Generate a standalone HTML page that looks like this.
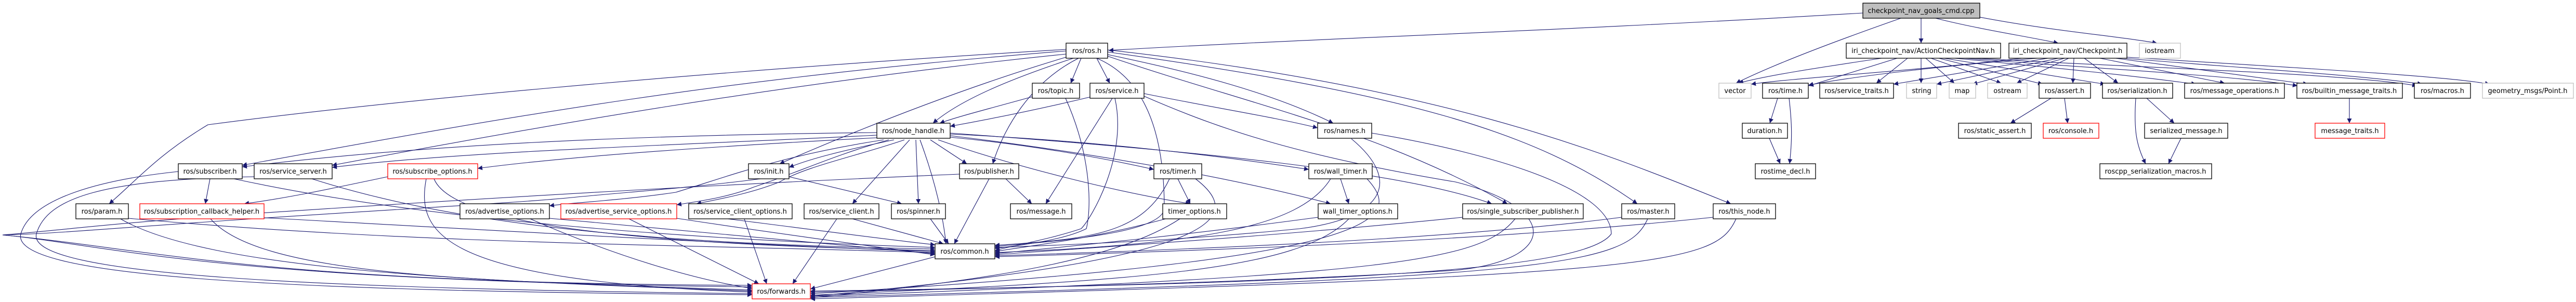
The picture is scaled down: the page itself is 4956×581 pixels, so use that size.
<!DOCTYPE html>
<html><head><meta charset="utf-8"><style>
html,body{margin:0;padding:0;background:#fff;}
svg{display:block;}
text{font-family:"DejaVu Sans","Liberation Sans",sans-serif;font-size:13px;fill:#000;text-anchor:middle;}
.e{fill:none;stroke:#191970;stroke-width:1.1;marker-end:url(#a);}
.n{fill:#fff;stroke:#000;stroke-width:1.3;}
.g{fill:#fff;stroke:#bfbfbf;stroke-width:1.3;}
.r{fill:#fff;stroke:#ff0000;stroke-width:1.3;}
</style></head><body>
<svg width="4956" height="581" viewBox="0 0 4956 581" xmlns="http://www.w3.org/2000/svg">
<defs><marker id="a" viewBox="0 0 10 10" refX="10" refY="5" markerWidth="9" markerHeight="9" orient="auto" markerUnits="userSpaceOnUse"><path d="M0,0 L10,5 L0,10 z" fill="#191970"/></marker></defs>
<g>
<path class="e" d="M3584,25 C3000,60 2500,75 2133,97"/>
<path class="e" d="M3660,34 C3500,90 3400,130 3340,160"/>
<path class="e" d="M3696,34 L3696,83"/>
<path class="e" d="M3720,34 C3800,55 3900,70 3960,83"/>
<path class="e" d="M3809,33 C3950,60 4080,70 4150,83"/>
<path class="e" d="M2080,112 L2060,160"/>
<path class="e" d="M2110,112 L2135,160"/>
<path class="e" d="M2065,112 C1950,150 1850,190 1795,237"/>
<path class="e" d="M2051,110 C1850,170 1650,250 1500,315"/>
<path class="e" d="M2075,112 C1980,160 1930,250 1910,315"/>
<path class="e" d="M2051,98 C1400,150 1000,220 466,318"/>
<path class="e" d="M2051,104 C1500,160 1000,250 639,318"/>
<path class="e" d="M2051,95 C1300,140 700,200 400,240 C300,300 260,350 210,392"/>
<path class="e" d="M2131,105 C2300,140 2450,180 2565,237"/>
<path class="e" d="M2131,108 C2400,200 2650,250 2900,392"/>
<path class="e" d="M2131,100 C2700,180 2950,250 3150,392"/>
<path class="e" d="M2131,96 C2800,170 3100,300 3330,392"/>
<path class="e" d="M2110,112 C2200,150 2240,250 2240,400 C2240,440 2100,460 1914,474"/>
<path class="e" d="M1990,185 C1900,210 1840,225 1808,237"/>
<path class="e" d="M2050,189 C2100,300 2100,400 2090,440 C2050,460 1980,470 1914,478"/>
<path class="e" d="M2100,186 C2000,210 1900,230 1828,243"/>
<path class="e" d="M2140,189 L2012,392"/>
<path class="e" d="M2145,189 C2170,300 2100,420 2080,440 C2020,460 1960,470 1914,482"/>
<path class="e" d="M2201,180 C2350,210 2450,225 2535,246"/>
<path class="e" d="M2201,185 C2350,250 2500,300 2800,350 C3000,400 3000,500 2800,520 C2400,545 1900,555 1559,562"/>
<path class="e" d="M1687,255 C1200,260 800,280 466,321"/>
<path class="e" d="M1687,260 C1300,280 900,290 639,322"/>
<path class="e" d="M1687,265 C1400,280 1100,300 919,324"/>
<path class="e" d="M1720,269 C1620,290 1560,305 1518,322"/>
<path class="e" d="M1790,269 L1860,315"/>
<path class="e" d="M1828,264 C2000,280 2150,310 2220,326"/>
<path class="e" d="M1828,258 C2100,270 2350,300 2518,326"/>
<path class="e" d="M1740,269 C1650,300 1550,320 1500,350 C1450,370 1400,380 1340,392"/>
<path class="e" d="M1750,269 L1640,392"/>
<path class="e" d="M1762,269 L1767,392"/>
<path class="e" d="M1805,269 C1950,320 2150,370 2290,392"/>
<path class="e" d="M1828,261 C2150,300 2400,350 2560,392"/>
<path class="e" d="M1700,269 C1500,300 1400,340 1300,370 C1200,385 1100,390 1057,396"/>
<path class="e" d="M1710,269 C1600,300 1540,330 1450,360 C1400,380 1340,388 1302,394"/>
<path class="e" d="M1770,269 C1800,350 1815,420 1820,469"/>
<path class="e" d="M1828,256 C2300,290 2700,330 2870,392"/>
<path class="e" d="M404,344 L395,392"/>
<path class="e" d="M746,340 C650,360 560,380 470,392"/>
<path class="e" d="M450,344 C800,420 1300,460 1799,476"/>
<path class="e" d="M343,330 C200,345 60,380 40,450 C20,530 500,560 1447,567"/>
<path class="e" d="M600,344 C900,440 1300,470 1799,479"/>
<path class="e" d="M489,340 C200,345 90,380 70,450 C50,530 600,555 1447,565"/>
<path class="e" d="M820,344 C800,450 850,540 1447,562"/>
<path class="e" d="M835,344 C870,430 1200,470 1799,482"/>
<path class="e" d="M247,420 C800,470 1300,470 1799,486"/>
<path class="e" d="M230,420 C400,520 900,540 1447,560"/>
<path class="e" d="M508,419 C900,440 1400,470 1799,484"/>
<path class="e" d="M405,421 C500,530 900,540 1447,558"/>
<path class="e" d="M1057,420 C1400,450 1600,470 1799,488"/>
<path class="e" d="M1020,421 C1200,500 1350,540 1447,555"/>
<path class="e" d="M1302,420 C1500,450 1650,470 1799,490"/>
<path class="e" d="M1210,421 L1460,546"/>
<path class="e" d="M1400,421 C1550,440 1700,460 1799,471"/>
<path class="e" d="M1432,421 L1475,546"/>
<path class="e" d="M1640,421 L1815,469"/>
<path class="e" d="M1610,421 L1525,546"/>
<path class="e" d="M1493,340 C1350,360 1200,370 1100,380 C1000,390 800,400 500,420 C200,440 100,450 5,452 C200,470 400,540 1447,552"/>
<path class="e" d="M1518,340 L1735,392"/>
<path class="e" d="M1790,421 L1825,469"/>
<path class="e" d="M1903,344 L1836,469"/>
<path class="e" d="M1935,344 L1985,392"/>
<path class="e" d="M1846,335 C1500,350 1100,370 500,410 C200,430 100,445 5,452 C300,480 500,545 1447,549"/>
<path class="e" d="M2266,344 L2290,392"/>
<path class="e" d="M2250,344 C2200,450 2100,460 1914,472"/>
<path class="e" d="M2300,344 C2400,420 2350,500 1559,570"/>
<path class="e" d="M2250,419 C2100,460 2000,470 1914,484"/>
<path class="e" d="M2270,421 C2150,500 1900,540 1559,573"/>
<path class="e" d="M2579,344 L2595,392"/>
<path class="e" d="M2560,344 C2500,440 2300,470 1914,486"/>
<path class="e" d="M2630,344 C2700,420 2680,500 1559,565"/>
<path class="e" d="M2536,418 C2300,450 2100,470 1914,488"/>
<path class="e" d="M2595,421 C2500,520 2200,540 1559,568"/>
<path class="e" d="M2814,418 C2500,450 2200,470 1914,490"/>
<path class="e" d="M2915,421 C2850,500 2700,530 1559,570"/>
<path class="e" d="M3120,418 C2800,460 2300,480 1914,492"/>
<path class="e" d="M3170,421 C3130,510 3000,535 1559,572"/>
<path class="e" d="M3296,418 C2900,460 2400,480 1914,494"/>
<path class="e" d="M3340,421 C3300,510 3200,530 1559,575"/>
<path class="e" d="M2600,267 C2700,350 2660,420 2500,440 C2300,460 2100,470 1914,476"/>
<path class="e" d="M2639,256 C2900,300 3100,370 3100,450 C3050,520 2600,545 1559,560"/>
<path class="e" d="M1799,494 L1559,556"/>
<path class="e" d="M3420,189 L3405,237"/>
<path class="e" d="M3442,189 C3448,240 3448,270 3443,315"/>
<path class="e" d="M3404,266 L3425,315"/>
<path class="e" d="M3620,112 C3500,130 3400,145 3345,160"/>
<path class="e" d="M3650,112 L3480,165"/>
<path class="e" d="M3670,112 L3610,160"/>
<path class="e" d="M3696,112 L3696,160"/>
<path class="e" d="M3705,112 L3760,160"/>
<path class="e" d="M3715,112 L3850,160"/>
<path class="e" d="M3730,112 L3930,162"/>
<path class="e" d="M3740,112 L4050,162"/>
<path class="e" d="M3760,112 C3950,130 4100,145 4225,162"/>
<path class="e" d="M3780,112 C4000,130 4300,145 4420,165"/>
<path class="e" d="M3800,112 C4100,130 4500,140 4650,165"/>
<path class="e" d="M3890,112 C3700,135 3450,150 3369,162"/>
<path class="e" d="M3920,112 C3700,130 3550,150 3479,164"/>
<path class="e" d="M3940,112 L3643,162"/>
<path class="e" d="M3960,112 L3726,162"/>
<path class="e" d="M3972,112 L3795,162"/>
<path class="e" d="M3980,112 L3880,160"/>
<path class="e" d="M3990,112 L3988,160"/>
<path class="e" d="M4010,112 L4075,160"/>
<path class="e" d="M4040,112 L4280,160"/>
<path class="e" d="M4070,112 L4440,162"/>
<path class="e" d="M4085,112 C4300,130 4550,145 4660,162"/>
<path class="e" d="M4092,110 C4400,130 4700,145 4790,162"/>
<path class="e" d="M3946,189 L3868,237"/>
<path class="e" d="M3972,189 L3978,237"/>
<path class="e" d="M4130,189 L4183,237"/>
<path class="e" d="M4109,189 C4105,250 4110,280 4128,315"/>
<path class="e" d="M4196,266 L4172,315"/>
<path class="e" d="M4520,189 L4520,237"/>
</g>
<g>
<rect x="3584" y="6" width="225" height="29" fill="#bfbfbf" stroke="#000" stroke-width="1.3"/><text x="3696" y="25">checkpoint_nav_goals_cmd.cpp</text>
<rect class="n" x="2051" y="83" width="80" height="29"/><text x="2091" y="102">ros/ros.h</text>
<rect class="n" x="3552" y="83" width="297" height="29"/><text x="3700" y="102">iri_checkpoint_nav/ActionCheckpointNav.h</text>
<rect class="n" x="3865" y="83" width="227" height="29"/><text x="3978" y="102">iri_checkpoint_nav/Checkpoint.h</text>
<rect class="g" x="4116" y="83" width="79" height="29"/><text x="4155" y="102">iostream</text>
<rect class="n" x="1986" y="160" width="91" height="29"/><text x="2031" y="179">ros/topic.h</text>
<rect class="n" x="2097" y="160" width="104" height="29"/><text x="2149" y="179">ros/service.h</text>
<rect class="g" x="3307" y="160" width="62" height="29"/><text x="3338" y="179">vector</text>
<rect class="n" x="3391" y="160" width="88" height="29"/><text x="3435" y="179">ros/time.h</text>
<rect class="n" x="3501" y="160" width="142" height="29"/><text x="3572" y="179">ros/service_traits.h</text>
<rect class="g" x="3668" y="160" width="58" height="29"/><text x="3697" y="179">string</text>
<rect class="g" x="3750" y="160" width="51" height="29"/><text x="3775" y="179">map</text>
<rect class="g" x="3824" y="160" width="76" height="29"/><text x="3862" y="179">ostream</text>
<rect class="n" x="3923" y="160" width="99" height="29"/><text x="3972" y="179">ros/assert.h</text>
<rect class="n" x="4045" y="160" width="135" height="29"/><text x="4112" y="179">ros/serialization.h</text>
<rect class="n" x="4203" y="160" width="192" height="29"/><text x="4299" y="179">ros/message_operations.h</text>
<rect class="n" x="4419" y="160" width="203" height="29"/><text x="4520" y="179">ros/builtin_message_traits.h</text>
<rect class="n" x="4645" y="160" width="108" height="29"/><text x="4699" y="179">ros/macros.h</text>
<rect class="g" x="4776" y="160" width="175" height="29"/><text x="4863" y="179">geometry_msgs/Point.h</text>
<rect class="n" x="1687" y="237" width="141" height="29"/><text x="1757" y="256">ros/node_handle.h</text>
<rect class="n" x="2535" y="237" width="104" height="29"/><text x="2587" y="256">ros/names.h</text>
<rect class="n" x="3352" y="237" width="87" height="29"/><text x="3395" y="256">duration.h</text>
<rect class="n" x="3768" y="237" width="140" height="29"/><text x="3838" y="256">ros/static_assert.h</text>
<rect class="r" x="3931" y="237" width="107" height="29"/><text x="3984" y="256">ros/console.h</text>
<rect class="n" x="4126" y="237" width="160" height="29"/><text x="4206" y="256">serialized_message.h</text>
<rect class="r" x="4454" y="237" width="134" height="29"/><text x="4521" y="256">message_traits.h</text>
<rect class="n" x="343" y="315" width="123" height="29"/><text x="404" y="334">ros/subscriber.h</text>
<rect class="n" x="489" y="315" width="150" height="29"/><text x="564" y="334">ros/service_server.h</text>
<rect class="r" x="746" y="315" width="173" height="29"/><text x="832" y="334">ros/subscribe_options.h</text>
<rect class="n" x="1440" y="315" width="78" height="29"/><text x="1479" y="334">ros/init.h</text>
<rect class="n" x="1846" y="315" width="114" height="29"/><text x="1903" y="334">ros/publisher.h</text>
<rect class="n" x="2220" y="315" width="92" height="29"/><text x="2266" y="334">ros/timer.h</text>
<rect class="n" x="2518" y="315" width="122" height="29"/><text x="2579" y="334">ros/wall_timer.h</text>
<rect class="n" x="3377" y="315" width="116" height="29"/><text x="3435" y="334">rostime_decl.h</text>
<rect class="n" x="4040" y="315" width="215" height="29"/><text x="4147" y="334">roscpp_serialization_macros.h</text>
<rect class="n" x="146" y="392" width="101" height="29"/><text x="196" y="411">ros/param.h</text>
<rect class="r" x="269" y="392" width="239" height="29"/><text x="388" y="411">ros/subscription_callback_helper.h</text>
<rect class="n" x="885" y="392" width="172" height="29"/><text x="971" y="411">ros/advertise_options.h</text>
<rect class="r" x="1079" y="392" width="223" height="29"/><text x="1190" y="411">ros/advertise_service_options.h</text>
<rect class="n" x="1325" y="392" width="199" height="29"/><text x="1424" y="411">ros/service_client_options.h</text>
<rect class="n" x="1547" y="392" width="144" height="29"/><text x="1619" y="411">ros/service_client.h</text>
<rect class="n" x="1715" y="392" width="104" height="29"/><text x="1767" y="411">ros/spinner.h</text>
<rect class="n" x="1944" y="392" width="118" height="29"/><text x="2003" y="411">ros/message.h</text>
<rect class="n" x="2237" y="392" width="123" height="29"/><text x="2298" y="411">timer_options.h</text>
<rect class="n" x="2536" y="392" width="153" height="29"/><text x="2612" y="411">wall_timer_options.h</text>
<rect class="n" x="2814" y="392" width="232" height="29"/><text x="2930" y="411">ros/single_subscriber_publisher.h</text>
<rect class="n" x="3120" y="392" width="102" height="29"/><text x="3171" y="411">ros/master.h</text>
<rect class="n" x="3296" y="392" width="120" height="29"/><text x="3356" y="411">ros/this_node.h</text>
<rect class="n" x="1799" y="469" width="115" height="29"/><text x="1856" y="488">ros/common.h</text>
<rect class="r" x="1447" y="546" width="112" height="29"/><text x="1503" y="565">ros/forwards.h</text>
</g>
</svg>
</body></html>
